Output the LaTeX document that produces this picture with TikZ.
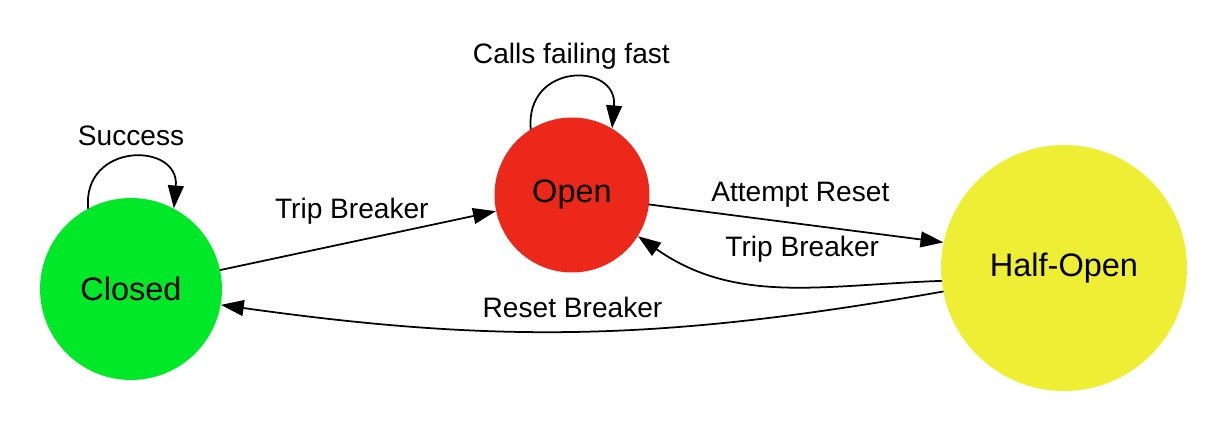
\documentclass[tikz,border=0pt]{standalone}
\usepackage{fontspec}
\setmainfont{Liberation Sans}
\usetikzlibrary{arrows.meta}
\definecolor{closedgreen}{RGB}{0,232,40}
\definecolor{openred}{RGB}{236,40,26}
\definecolor{halfyellow}{RGB}{238,238,52}
\begin{document}
\begin{tikzpicture}[x=0.02cm,y=-0.02cm,line join=round,line cap=round,>={Triangle[length=13pt,width=9pt]},font=\fontsize{16}{19}\selectfont]
    \tikzset{state/.style={circle,inner sep=0pt,font=\fontsize{18.5}{22}\selectfont},
             edge/.style={->,line width=1pt},
             edge label/.style={above,inner sep=3pt}}
    \useasboundingbox (0,0) rectangle (1221,444);
    % states
    \node[state,fill=closedgreen,minimum size=3.64cm] (closed) at (131,289) {Closed};
    \node[state,fill=openred,minimum size=3.1cm] (open) at (572,195) {Open};
    \node[state,fill=halfyellow,minimum size=4.92cm] (half) at (1064,268) {Half-Open};
    % loops
    \draw[edge] (closed.118) to[out=95,in=85,looseness=2] node[edge label,shift={(0,-6)}] {Success} (closed.62);
    \draw[edge] (open.122) to[out=95,in=85,looseness=2.1] node[edge label,shift={(0,-3)}] {Calls failing fast} (open.59);
    % transitions
    \draw[edge] (closed.12) -- node[edge label,pos=0.47,shift={(2,-12)}] {Trip Breaker} (open.192);
    \draw[edge] (open.353) -- node[edge label,shift={(4,-10)}] {Attempt Reset} (half.168);
    \draw[edge] (half.186) to[out=182,in=-35] node[edge label,pos=0.45,shift={(6,-18)}] {Trip Breaker} (open.328);
    \draw[edge] (half.191) to[out=190,in=-8] node[edge label,pos=0.5,shift={(-10,-7)}] {Reset Breaker} (closed.350);
\end{tikzpicture}
\end{document}
